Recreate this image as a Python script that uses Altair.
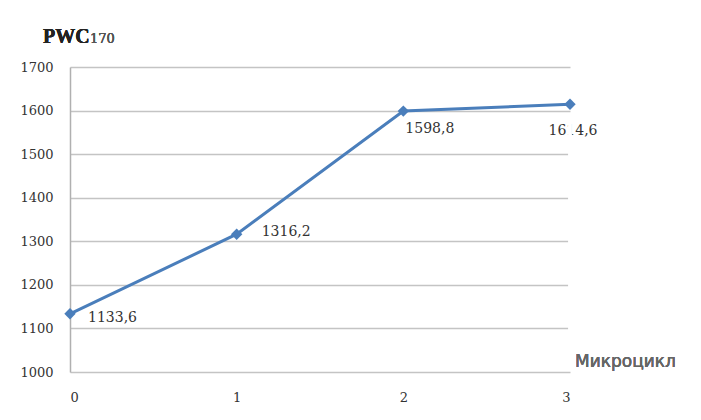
import altair as alt
import pandas as pd

cycles = [0, 1, 2, 3]
pwc = [1133.6, 1316.2, 1598.8, 1614.6]
labels = ["1133,6", "1316,2", "1598,8", "1614,6"]
y_ticks = [1000, 1100, 1200, 1300, 1400, 1500, 1600, 1700]
x_ticks = [0, 1, 2, 3]

df = pd.DataFrame({"cycle": cycles, "pwc": pwc, "label": labels})

W, H = 500, 305
blue = "#4a7ebb"
serif = "DejaVu Serif"

x = alt.X("cycle:Q", scale=alt.Scale(domain=[0, 3], nice=False),
          axis=alt.Axis(values=x_ticks, title=None, grid=False, domain=False, ticks=False,
                        labelFont=serif, labelFontSize=13, labelColor="#333333",
                        labelPadding=19, format="d"))
y = alt.Y("pwc:Q", scale=alt.Scale(domain=[1000, 1700], nice=False, zero=False),
          axis=alt.Axis(values=y_ticks, title=None, grid=True, gridColor="#c4c4c4",
                        gridWidth=1.5, domain=True, domainColor="#b0b0b0", domainWidth=1.5,
                        ticks=False, labelFont=serif, labelFontSize=13, format="d",
                        labelColor="#333333", labelPadding=17))

base = alt.Chart(df)
line = base.mark_line(color=blue, strokeWidth=3).encode(x=x, y=y)
pts = base.mark_point(shape="diamond", filled=True, color=blue, size=130, opacity=1).encode(x=x, y=y)

offsets = [(0, "left", 18, 4), (1, "left", 25, -2), (2, "left", 2, 18), (3, "center", 3, 27)]
texts = []
for c, al, dx, dy in offsets:
    texts.append(
        base.transform_filter(alt.datum.cycle == c)
        .mark_text(align=al, baseline="middle", dx=dx, dy=dy, font=serif, fontSize=14, color="#333333")
        .encode(x=x, y=y, text="label:N")
    )

cover_a = alt.Chart(df).mark_rule(color="white", strokeWidth=3).encode(
    x=alt.value(W), y=alt.value(2), y2=alt.value(26))
cover_b = alt.Chart(df).mark_rule(color="white", strokeWidth=3).encode(
    x=alt.value(W), y=alt.value(48), y2=alt.value(H - 2))

title_main = alt.Chart(df).mark_text(align="left", baseline="alphabetic", font="Liberation Serif",
                                     fontSize=20, fontWeight="bold", color="#222222").encode(
    x=alt.value(-27), y=alt.value(-24), text=alt.value("PWC"))
title_sub = alt.Chart(df).mark_text(align="left", baseline="alphabetic", font=serif,
                                    fontSize=13, color="#555555").encode(
    x=alt.value(20), y=alt.value(-24), text=alt.value("170"))
xlab = alt.Chart(df).mark_text(align="left", baseline="middle", font="DejaVu Sans",
                               fontSize=17, color="#666666").encode(
    x=alt.value(505), y=alt.value(295), text=alt.value("Микроцикл"))

chart = alt.layer(line, pts, *texts, cover_a, cover_b, title_main, title_sub, xlab).properties(
    width=W, height=H,
    autosize=alt.AutoSizeParams(type="none"),
    padding={"left": 62, "top": 59, "right": 120, "bottom": 40},
).configure(background="white").configure_view(
    stroke="transparent", strokeWidth=0
).configure_axisX(grid=False, domain=False, ticks=False)

chart.save("out.html", embed_options={"renderer": "svg", "actions": False})
